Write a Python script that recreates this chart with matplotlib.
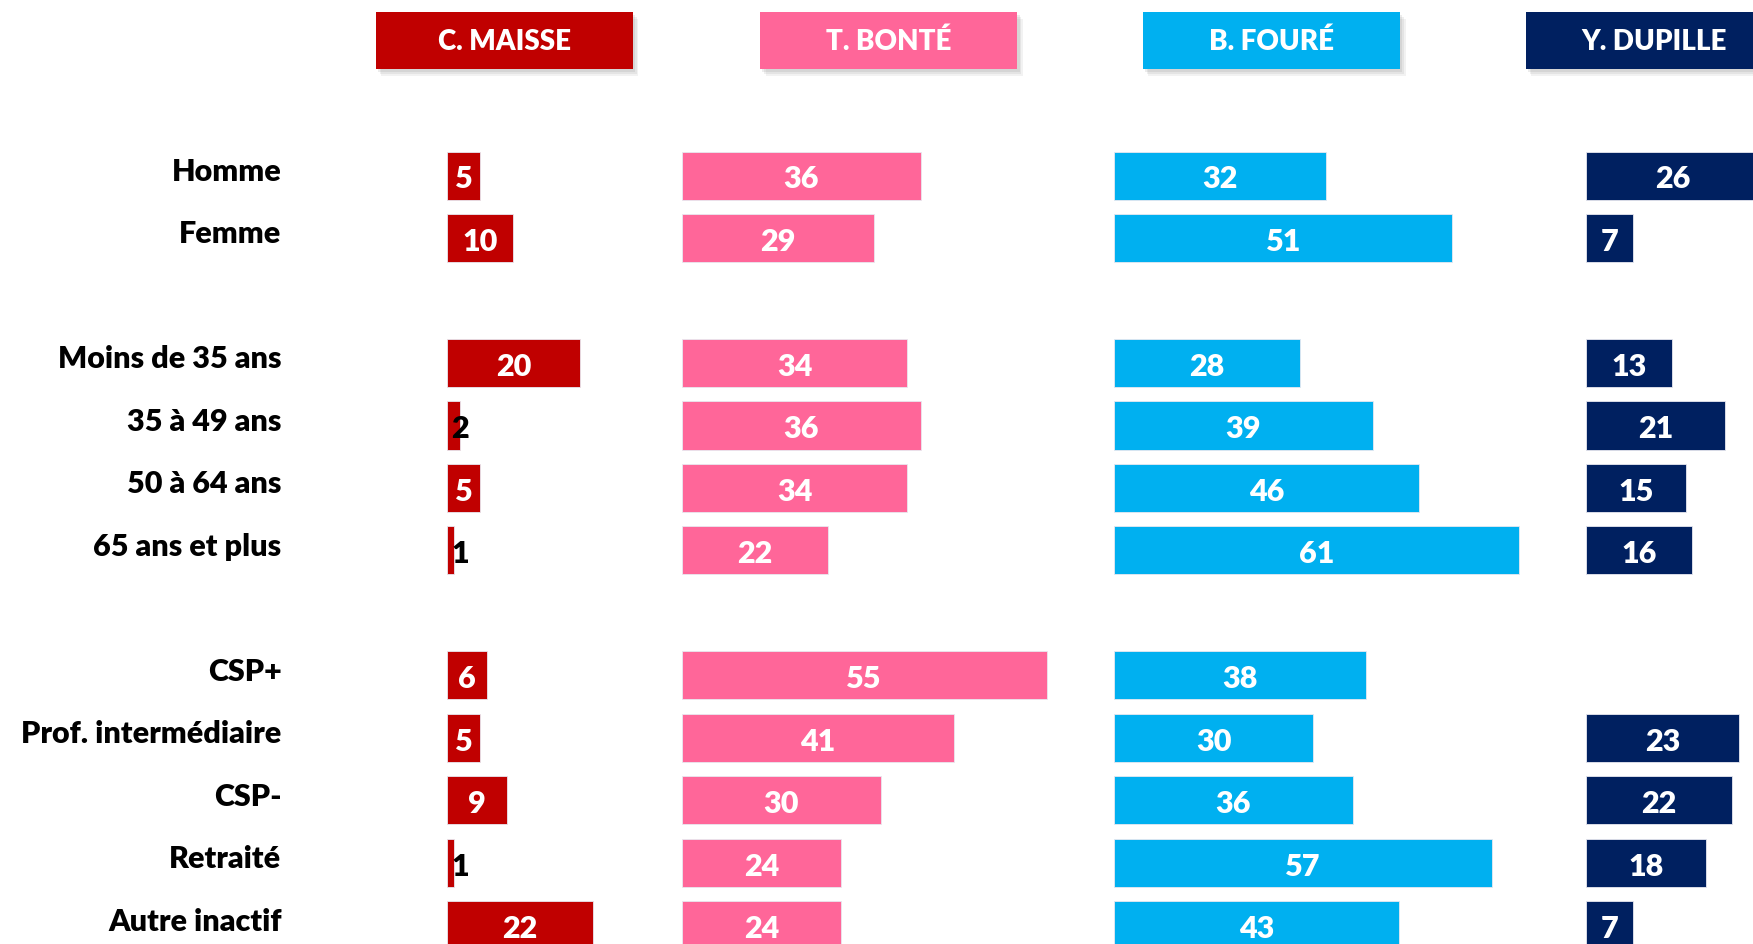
import numpy as np
import matplotlib.pyplot as plt
from matplotlib.patches import Rectangle

# Data
rows = ["Homme", "Femme", "Moins de 35 ans", "35 à 49 ans", "50 à 64 ans",
        "65 ans et plus", "CSP+", "Prof. intermédiaire", "CSP-", "Retraité",
        "Autre inactif"]
row_pos = [0, 1, 3, 4, 5, 6, 8, 9, 10, 11, 12]

candidates = ["C. MAISSE", "T. BONTÉ", "B. FOURÉ", "Y. DUPILLE"]
colors = ["#C00000", "#FF6699", "#00B0F0", "#002060"]

maisse = [5, 10, 20, 2, 5, 1, 6, 5, 9, 1, 22]
bonte = [36, 29, 34, 36, 34, 22, 55, 41, 30, 24, 24]
foure = [32, 51, 28, 39, 46, 61, 38, 30, 36, 57, 43]
dupille = [26, 7, 13, 21, 15, 16, np.nan, 23, 22, 18, 7]
values = [maisse, bonte, foure, dupille]

# Layout (x in value units, each column has its own zero)
offsets = [0, 35.4, 100.6, 171.8]
header_left = [-10.8, 47.2, 104.9, 162.7]
header_w = 38.8

plt.rcParams["font.family"] = ["Lato", "DejaVu Sans"]
W = "heavy"

fig = plt.figure(figsize=(17.53, 9.44), dpi=100)
ax = fig.add_axes([0, 0, 1, 1])
ax.set_xlim(-67.45, 196.96)
ax.set_ylim(12.30, -2.81)
ax.axis("off")

bar_h = 0.77
for vals, off, col in zip(values, offsets, colors):
    for v, y in zip(vals, row_pos):
        if np.isnan(v):
            continue
        ax.barh(y, v, left=off, height=bar_h, color=col,
                edgecolor="#e8e8f0", linewidth=0.6)
        if v <= 2:
            ax.text(off + 0.6, y + 0.06, f"{int(v)}", ha="left", va="center",
                    color="black", fontsize=22, fontweight=W)
        else:
            ax.text(off + v / 2, y + 0.06, f"{int(v)}", ha="center", va="center",
                    color="white", fontsize=22, fontweight=W)

# Row labels
for lab, y in zip(rows, row_pos):
    ax.text(-25.0, y - 0.06, lab, ha="right", va="center", color="black",
            fontsize=22, fontweight=W)

# Header boxes with soft shadow
hy0, hy1 = -2.615, -1.70
for name, x0, col in zip(candidates, header_left, colors):
    for k, a in enumerate([0.10, 0.12, 0.15]):
        d = 0.35 + 0.25 * (2 - k)
        ax.add_patch(Rectangle((x0 + d * 1.0, hy0 + d * 0.12), header_w, hy1 - hy0,
                               color="#808080", alpha=a, lw=0, zorder=2))
    ax.add_patch(Rectangle((x0, hy0), header_w, hy1 - hy0, color=col, lw=0,
                           zorder=3))
    ax.text(x0 + header_w / 2, (hy0 + hy1) / 2 + 0.02, name, ha="center",
            va="center", color="white", fontsize=20, fontweight=W, zorder=4)

fig.savefig("out.png", dpi=100)
